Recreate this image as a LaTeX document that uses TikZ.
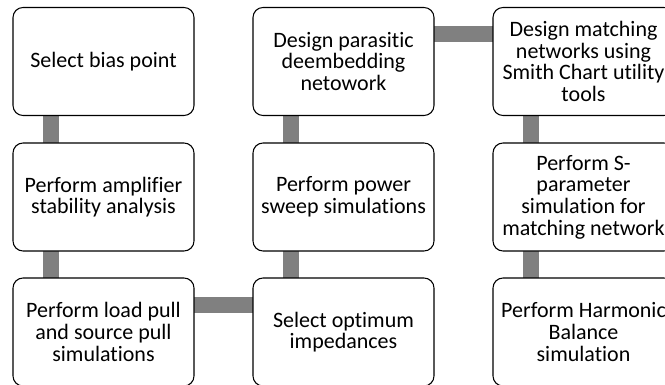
\documentclass[tikz,border=0pt]{standalone}
\usepackage{fontspec}
\setmainfont{Carlito}[Ligatures=NoCommon]
\usetikzlibrary{backgrounds}
\definecolor{bargray}{HTML}{808080}
\tikzset{
  stepbox/.style={draw=black, line width=0.8pt, fill=white, rounded corners=7.5pt,
    minimum width=181*0.75pt, minimum height=108*0.75pt, inner sep=0pt,
    outer sep=0pt, align=center, font=\fontsize{16.5}{16.25}\selectfont},
  bar/.style={draw=bargray, line width=16*0.75pt, line cap=butt}
}
\begin{document}
\begin{tikzpicture}[x=0.75pt, y=-0.75pt]
\useasboundingbox (0,0) rectangle (665,385);
% column 1
\node[stepbox] (b1) at (103.5,61.5) {Select bias point};
\node[stepbox] (b2) at (103.5,197) {Perform amplifier\\stability analysis};
\node[stepbox] (b3) at (103.5,332) {Perform load pull\\and source pull\\simulations};
% column 2
\node[stepbox] (b4) at (343.5,332) {Select optimum\\impedances};
\node[stepbox] (b5) at (343.5,197) {Perform power\\sweep simulations};
\node[stepbox] (b6) at (343.5,61.5) {Design parasitic\\deembedding\\netowork};
% column 3
\node[stepbox] (b7) at (583.5,61.5) {Design matching\\networks using\\Smith Chart utility\\tools};
\node[stepbox] (b8) at (583.5,197) {Perform S-\\parameter\\simulation for\\matching network};
\node[stepbox] (b9) at (583.5,332) {Perform Harmonic\\Balance\\simulation};
% connecting bars behind the boxes
\begin{scope}[on background layer]
\draw[bar] ([xshift=37.5*0.75pt]b1.south west) -- ([xshift=37.5*0.75pt]b2.north west);
\draw[bar] ([xshift=37.5*0.75pt]b2.south west) -- ([xshift=37.5*0.75pt]b3.north west);
\draw[bar] ([yshift=-27*0.75pt]b3.north east) -- ([yshift=-27*0.75pt]b4.north west);
\draw[bar] ([xshift=37.5*0.75pt]b4.north west) -- ([xshift=37.5*0.75pt]b5.south west);
\draw[bar] ([xshift=37.5*0.75pt]b5.north west) -- ([xshift=37.5*0.75pt]b6.south west);
\draw[bar] ([yshift=-27*0.75pt]b6.north east) -- ([yshift=-27*0.75pt]b7.north west);
\draw[bar] ([xshift=37.5*0.75pt]b7.south west) -- ([xshift=37.5*0.75pt]b8.north west);
\draw[bar] ([xshift=37.5*0.75pt]b8.south west) -- ([xshift=37.5*0.75pt]b9.north west);
\end{scope}
\end{tikzpicture}
\end{document}
